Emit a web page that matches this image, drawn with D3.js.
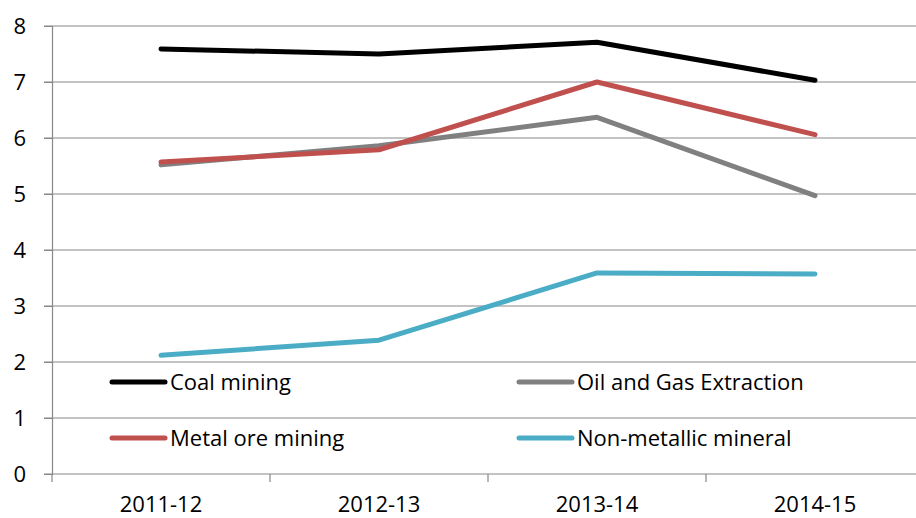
<!DOCTYPE html>
<html lang="en">
<head>
<meta charset="UTF-8">
<script src="https://d3js.org/d3.v7.min.js"></script>
<style>
  body { margin: 0; background: #fff; }
  svg text { font-family: "Open Sans", Lato, sans-serif; fill: #000; }
</style>
</head>
<body>
<svg id="chart" width="916" height="518"></svg>
<script>
// data
const years = ["2011-12", "2012-13", "2013-14", "2014-15"];
const coal = [7.59, 7.5, 7.71, 7.03];
const oilGas = [5.52, 5.86, 6.37, 4.97];
const metalOre = [5.57, 5.79, 7.0, 6.06];
const nonMetallic = [2.12, 2.39, 3.59, 3.57];
const yTicks = [0, 1, 2, 3, 4, 5, 6, 7, 8];

const series = [
  { name: "Coal mining", values: coal, color: "#000000" },
  { name: "Oil and Gas Extraction", values: oilGas, color: "#808080" },
  { name: "Metal ore mining", values: metalOre, color: "#c0504d" },
  { name: "Non-metallic mineral", values: nonMetallic, color: "#4bacc6" }
];

const svg = d3.select("#chart");
const plotLeft = 52, plotRight = 924, plotTop = 26, plotBottom = 474;
const fontSize = "22px";

const x = d3.scaleBand().domain(years).range([plotLeft, plotRight]);
const y = d3.scaleLinear().domain([0, 8]).range([plotBottom, plotTop]);

//gridlines
svg.append("g")
  .selectAll("line")
  .data(yTicks)
  .join("line")
  .attr("x1", plotLeft - 8)
  .attr("x2", plotRight)
  .attr("y1", d => y(d))
  .attr("y2", d => y(d))
  .attr("stroke", "#878787")
  .attr("stroke-width", 1.2);

// y axis
const yAxis = svg.append("g")
  .attr("transform", "translate(" + plotLeft + ",0)")
  .call(d3.axisLeft(y).tickValues(yTicks).tickSize(8).tickPadding(18));
yAxis.select(".domain").attr("stroke", "#878787").attr("stroke-width", 1.2);
yAxis.selectAll(".tick line").attr("stroke", "#878787");
yAxis.selectAll("text").style("font-size", fontSize);

// x axis
const xAxis = svg.append("g")
  .attr("transform", "translate(0," + plotBottom + ")")
  .call(d3.axisBottom(x).tickSize(0).tickPadding(22));
xAxis.select(".domain").remove();
xAxis.selectAll("text").style("font-size", fontSize);
svg.append("g")
  .selectAll("line")
  .data(years)
  .join("line")
  .attr("x1", d => x(d))
  .attr("x2", d => x(d))
  .attr("y1", plotBottom)
  .attr("y2", plotBottom + 8)
  .attr("stroke", "#878787")
  .attr("stroke-width", 1.2);

// lines
const line = d3.line()
  .x((d, i) => x(years[i]) + x.bandwidth() / 2)
  .y(d => y(d));

svg.append("g")
  .selectAll("path")
  .data(series)
  .join("path")
  .attr("d", d => line(d.values))
  .attr("fill", "none")
  .attr("stroke", d => d.color)
  .attr("stroke-width", 5)
  .attr("stroke-linecap", "round")
  .attr("stroke-linejoin", "round");

// legend
const legendPos = [[112, 382], [519, 382], [112, 438], [519, 438]];
const legend = svg.append("g")
  .selectAll("g")
  .data(series)
  .join("g")
  .attr("transform", (d, i) => "translate(" + legendPos[i][0] + "," + legendPos[i][1] + ")");

legend.append("line")
  .attr("x1", 0)
  .attr("x2", 53)
  .attr("stroke", d => d.color)
  .attr("stroke-width", 5)
  .attr("stroke-linecap", "round");

legend.append("text")
  .attr("x", 58)
  .attr("dy", "0.35em")
  .style("font-size", fontSize)
  .text(d => d.name);
</script>
</body>
</html>
